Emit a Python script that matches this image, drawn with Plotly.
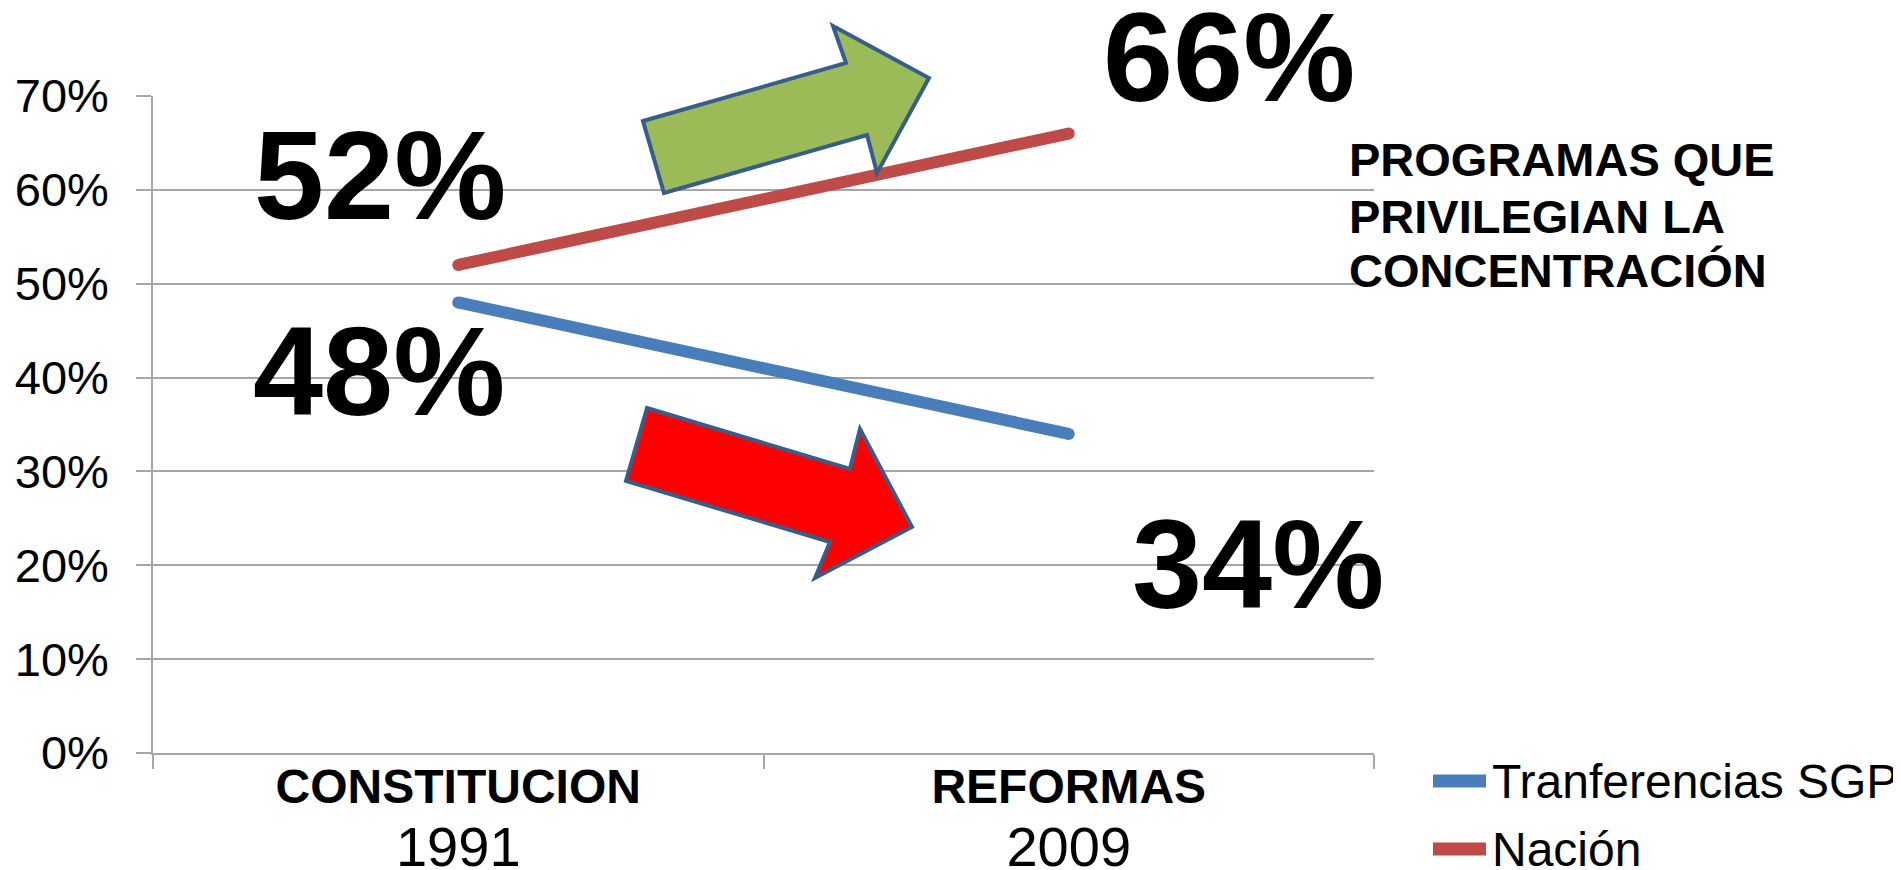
import plotly.graph_objects as go

# -- datos
categorias = ["CONSTITUCION", "REFORMAS"]
anios = ["1991", "2009"]
serie_nombres = ["Tranferencias SGP", "Nación"]
sgp = [0.48, 0.34]
nacion = [0.52, 0.66]
y_ticks = [0, 0.1, 0.2, 0.3, 0.4, 0.5, 0.6, 0.7]

colores = ["#4a7ebb", "#be4b48"]
fuente = "Liberation Sans, Arial, sans-serif"

# -- dimensiones (pixeles de la pagina); el body del html tiene 8px de margen
OFF = 8
W, H = 1901 - OFF, 870 - OFF
L, R, T, B = 153, 1374, 96, 753


def px(x, y):
    # pixeles de pagina -> coordenadas paper
    return (x - L) / (R - L), (B - y) / (B - T)


fig = go.Figure()

for nombre, valores, color in zip(serie_nombres, [sgp, nacion], colores):
    fig.add_trace(go.Scatter(x=categorias, y=valores, name=nombre, mode="lines+markers",
                             line=dict(color=color, width=12),
                             marker=dict(color=color, size=12, line=dict(width=0)),
                             showlegend=False, hoverinfo="skip"))

ticktext = ["<b>%s</b><br><span style='font-size:56px;font-weight:normal'>%s</span>" % (c, a)
            for c, a in zip(categorias, anios)]

fig.update_layout(
    width=W, height=H, autosize=False,
    paper_bgcolor="white", plot_bgcolor="white",
    margin=dict(l=L - OFF, r=W - (R - OFF), t=T - OFF, b=H - (B - OFF), pad=0),
    font=dict(family=fuente, color="black"),
    showlegend=False,
    xaxis=dict(type="category", range=[-0.5, 1.5], tickvals=categorias, ticktext=ticktext,
               tickson="boundaries", ticks="outside", ticklen=14, tickcolor="#a6a6a6",
               tickwidth=1.5, showline=True, linecolor="#a6a6a6", linewidth=1.5,
               showgrid=False, zeroline=False, automargin=False,
               tickfont=dict(size=48, color="black"), ticklabelstandoff=-9),
    yaxis=dict(range=[0, 0.7], tickvals=y_ticks, tickformat=".0%", ticks="outside",
               ticklen=15, tickcolor="#a6a6a6", tickwidth=1.5, showline=True,
               linecolor="#a6a6a6", linewidth=1.5, showgrid=True, gridcolor="#a6a6a6",
               gridwidth=1.5, zeroline=False, automargin=False,
               tickfont=dict(size=47, color="black"), ticklabelstandoff=18),
)

# -- flechas
flechas = [
    ([(643, 121), (846, 63), (833, 26), (929, 78), (877, 173), (867, 135), (664, 193)], "#9bbb59"),
    ([(647, 408), (850, 469), (860, 429), (912, 527), (815, 578), (830, 542), (626, 481)], "#ff0000"),
]
for puntos, relleno in flechas:
    pp = [px(x, y) for x, y in puntos]
    path = "M " + " L ".join("%.4f,%.4f" % p for p in pp) + " Z"
    fig.add_shape(type="path", path=path, xref="paper", yref="paper", fillcolor=relleno,
                  line=dict(color="#385d8a", width=4), layer="above")

# -- etiquetas grandes de porcentaje
etiquetas = [(nacion[0], 380, 175), (sgp[0], 379, 371), (nacion[1], 1229, 58), (sgp[1], 1258, 564)]
for v, x, y in etiquetas:
    xp, yp = px(x, y)
    fig.add_annotation(x=xp, y=yp, xref="paper", yref="paper", text="<b>%d%%</b>" % round(v * 100),
                       showarrow=False, xanchor="center", yanchor="middle",
                       font=dict(size=126, color="black", family=fuente))

# -- texto lateral
lineas = ["PROGRAMAS QUE", "PRIVILEGIAN LA", "CONCENTRACIÓN"]
for texto, y in zip(lineas, [159, 216, 270]):
    xp, yp = px(1347, y)
    fig.add_annotation(x=xp, y=yp, xref="paper", yref="paper", text="<b>%s</b>" % texto,
                       showarrow=False, xanchor="left", yanchor="middle",
                       font=dict(size=47, color="black", family=fuente))

# -- leyenda manual
for nombre, color, y in zip(serie_nombres, colores, [781, 849]):
    x0, yp = px(1433, y)
    x1, _ = px(1486, y)
    fig.add_shape(type="line", x0=x0, x1=x1, y0=yp, y1=yp, xref="paper", yref="paper",
                  line=dict(color=color, width=13))
    xt, _ = px(1490, y)
    fig.add_annotation(x=xt, y=yp, xref="paper", yref="paper", text=nombre, showarrow=False,
                       xanchor="left", yanchor="middle",
                       font=dict(size=48, color="black", family=fuente))

fig.write_html("out.html")
